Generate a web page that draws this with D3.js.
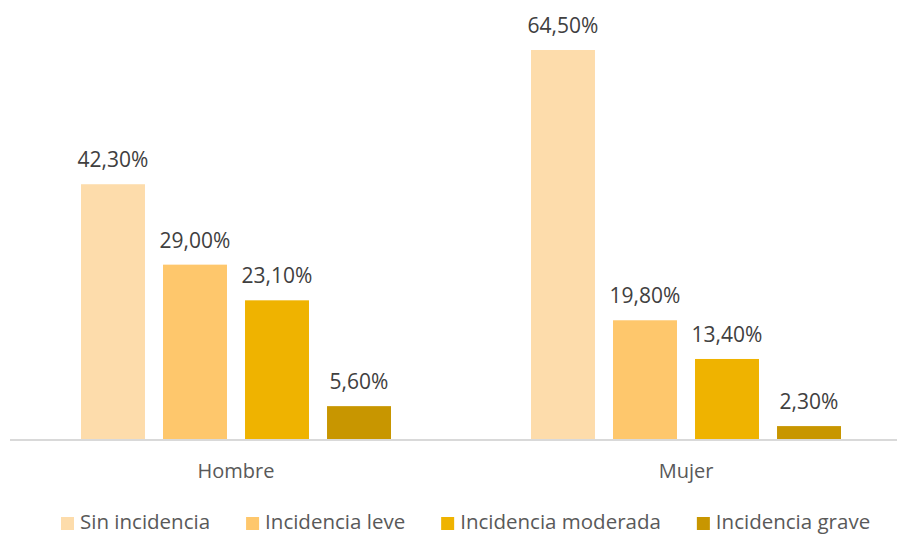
<!DOCTYPE html>
<html><head><meta charset="utf-8">
<script src="https://cdn.jsdelivr.net/npm/d3@7"></script>
<style>body{margin:0;background:#fff;} svg{display:block;font-family:"Open Sans",sans-serif;}</style>
</head><body>
<svg id="chart" width="897" height="534"></svg>
<script>
const categories = ["Hombre", "Mujer"];
const seriesNames = ["Sin incidencia", "Incidencia leve", "Incidencia moderada", "Incidencia grave"];
const sinIncidencia = [42.3, 64.5];
const incidenciaLeve = [29.0, 19.8];
const incidenciaModerada = [23.1, 13.4];
const incidenciaGrave = [5.6, 2.3];
const colors = ["#FDDCAB", "#FEC76C", "#EFB300", "#C89600"];

const seriesValues = [sinIncidencia, incidenciaLeve, incidenciaModerada, incidenciaGrave];
const svg = d3.select("#chart");
const baseY = 440;

const x0 = d3.scaleBand().domain(categories).range([11, 911]).padding(0);
const x1 = d3.scaleBand().domain(seriesNames).range([70, 380]).paddingInner(0.22).paddingOuter(0);
const y = d3.scaleLinear().domain([0, 64.5]).range([baseY, 50]);

const fmt = v => v.toFixed(2).replace(".", ",") + "%";

const groups = svg.selectAll("g.cat").data(categories).join("g")
  .attr("class", "cat")
  .attr("transform", d => `translate(${x0(d)},0)`);

groups.each(function(cat, ci) {
  const g = d3.select(this);
  const data = seriesNames.map((s, si) => ({s, v: seriesValues[si][ci], c: colors[si]}));
  g.selectAll("rect").data(data).join("rect")
    .attr("x", d => x1(d.s)).attr("width", x1.bandwidth())
    .attr("y", d => y(d.v)).attr("height", d => baseY - y(d.v))
    .attr("fill", d => d.c);
  g.selectAll("text.lbl").data(data).join("text")
    .attr("class", "lbl")
    .attr("x", d => x1(d.s) + x1.bandwidth() / 2)
    .attr("y", d => y(d.v) - 17)
    .attr("text-anchor", "middle")
    .attr("font-size", 21)
    .attr("fill", "#404040")
    .text(d => fmt(d.v));
});

// x axis
const xAxis = d3.axisBottom(x0).tickSize(0).tickPadding(0);
const ax = svg.append("g").attr("transform", `translate(0,${baseY})`).call(xAxis);
ax.select(".domain").attr("stroke", "#d9d9d9").attr("stroke-width", 2).attr("d", "M10,0H911");
ax.selectAll(".tick text").attr("font-size", 20).attr("fill", "#595959")
  .attr("font-family", "'Open Sans',sans-serif").attr("dy", null).attr("y", 38);

// legend
const leg = svg.append("g");
let lx = 61;
seriesNames.forEach((s, i) => {
  leg.append("rect").attr("x", lx).attr("y", 517).attr("width", 13).attr("height", 13).attr("fill", colors[i]);
  const t = leg.append("text").attr("x", lx + 19).attr("y", 529).attr("font-size", 20.5).attr("fill", "#595959").text(s);
  lx += 19 + t.node().getComputedTextLength() + 36;
});
</script>
</body></html>
